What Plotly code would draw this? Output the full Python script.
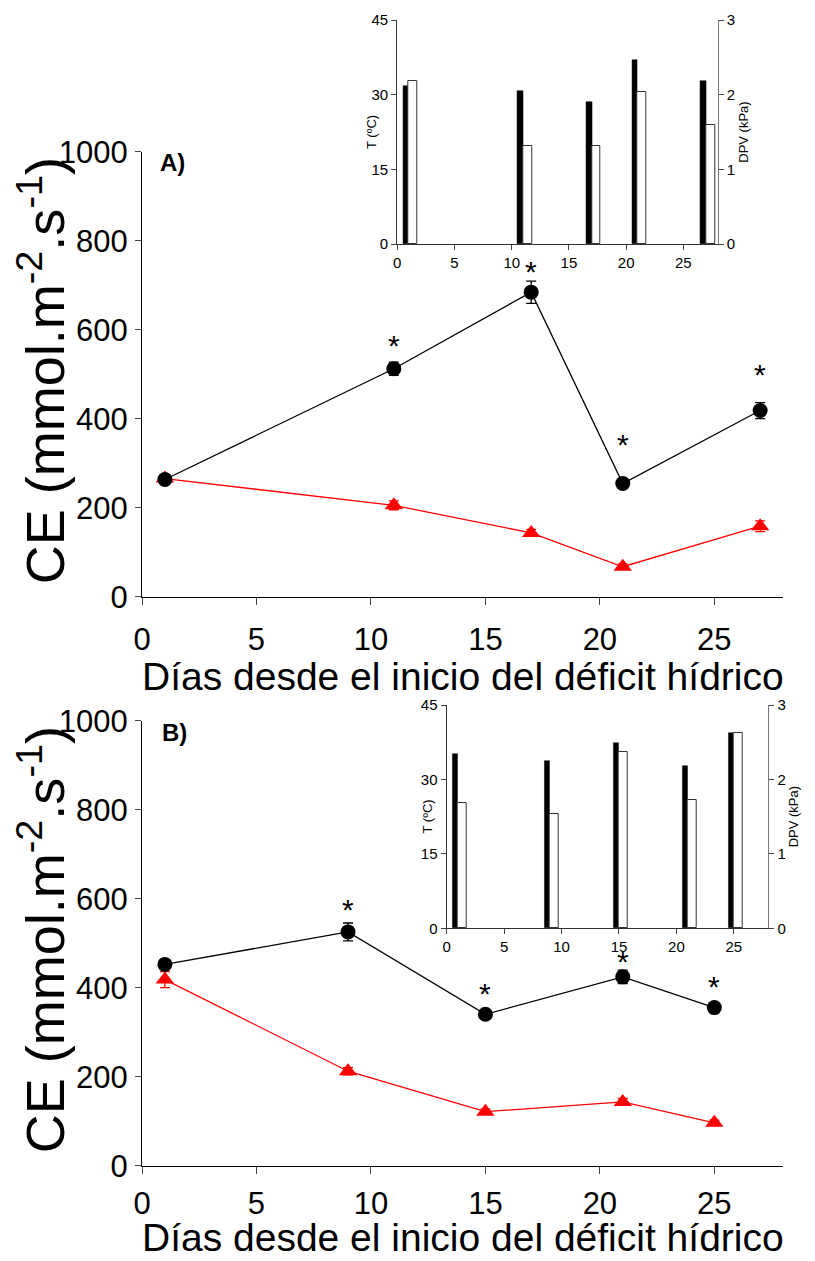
import plotly.graph_objects as go

# ---------------- data ----------------
days_A = [1, 11, 17, 21, 27]
ce_ctrl_A = [264, 513, 685, 255, 419]
ce_ctrl_A_err = [10, 15, 25, 10, 18]
ce_def_A = [266, 206, 144, 68, 159]
ce_def_A_err = [8, 10, 8, 6, 12]
sig_days_A = [11, 17, 21, 27]
sig_y_A = [573, 739, 349, 507]

days_B = [1, 9, 15, 21, 25]
ce_ctrl_B = [453, 526, 341, 425, 356]
ce_ctrl_B_err = [10, 20, 8, 15, 6]
ce_def_B = [419, 213, 122, 144, 97]
ce_def_B_err = [18, 8, 6, 8, 6]
sig_days_B = [9, 15, 21, 25]
sig_y_B = [583, 395, 467, 411]

temp_A = [31.7, 30.8, 28.6, 36.9, 32.8]
dpv_A = [2.18, 1.31, 1.31, 2.04, 1.60]
temp_B = [35.1, 33.7, 37.4, 32.7, 39.4]
dpv_B = [1.69, 1.53, 2.37, 1.72, 2.62]

x_ticks = [0, 5, 10, 15, 20, 25]
x_title = "Días desde el inicio del déficit hídrico"
y_title = "CE (mmol.m<sup>-2</sup>.s<sup>-1</sup>)"
t_title = "T (ºC)"
dpv_title = "DPV (kPa)"

FONT = "Liberation Sans, Arial, sans-serif"
NARROW = "Liberation Sans Narrow, Arial Narrow, Liberation Sans, Arial, sans-serif"

fig = go.Figure()
annotations = []

def add_main(days, ctrl, ctrl_err, dfc, dfc_err, sdays, sy, xa, ya):
    fig.add_trace(go.Scatter(
        x=days, y=dfc, mode="lines+markers", xaxis=xa, yaxis=ya,
        line=dict(color="#ff0000", width=1.3),
        marker=dict(symbol="triangle-up", size=16, color="#ff0000"),
        error_y=dict(type="data", array=dfc_err, color="#ff0000", thickness=1.3, width=5),
        showlegend=False, cliponaxis=False))
    fig.add_trace(go.Scatter(
        x=days, y=ctrl, mode="lines+markers", xaxis=xa, yaxis=ya,
        line=dict(color="black", width=1.3),
        marker=dict(symbol="circle", size=15, color="black"),
        error_y=dict(type="data", array=ctrl_err, color="black", thickness=1.3, width=5),
        showlegend=False, cliponaxis=False))
    for d, v in zip(sdays, sy):
        annotations.append(dict(
            text="*", x=d, y=v, xref=xa, yref=ya, showarrow=False,
            xanchor="center", yanchor="middle", yshift=-3,
            font=dict(family=FONT, size=30, color="black")))

add_main(days_A, ce_ctrl_A, ce_ctrl_A_err, ce_def_A, ce_def_A_err, sig_days_A, sig_y_A, "x", "y")
add_main(days_B, ce_ctrl_B, ce_ctrl_B_err, ce_def_B, ce_def_B_err, sig_days_B, sig_y_B, "x2", "y2")

def add_inset(days, temp, dpv, xa, ya_l, ya_r):
    fig.add_trace(go.Bar(
        x=days, y=temp, xaxis=xa, yaxis=ya_l, offset=-0.48, width=0.48,
        marker=dict(color="black", line=dict(color="black", width=0.5)),
        showlegend=False))
    fig.add_trace(go.Bar(
        x=days, y=dpv, xaxis=xa, yaxis=ya_r, offset=0.0, width=0.78,
        marker=dict(color="white", line=dict(color="#333333", width=1)),
        showlegend=False))

add_inset(days_A, temp_A, dpv_A, "x3", "y3", "y4")
add_inset(days_B, temp_B, dpv_B, "x4", "y5", "y6")

main_x = dict(range=[0, 28], tickvals=x_ticks, ticks="outside", ticklen=7, tickwidth=1.2,
              showline=True, linecolor="black", linewidth=1.3, showgrid=False, zeroline=False,
              automargin=False, ticklabelstandoff=8,
              tickfont=dict(family=NARROW, size=31, color="black"))
main_y = dict(range=[0, 1000], dtick=200, ticks="outside", ticklen=6, tickwidth=1.2,
              showline=True, linecolor="black", linewidth=1.3, showgrid=False, zeroline=False,
              automargin=False, ticklabelstandoff=1,
              tickfont=dict(family=NARROW, size=31, color="black"))

ins_x = dict(range=[0, 28], tickvals=x_ticks, ticks="outside", ticklen=5, tickwidth=1,
             showline=True, linecolor="#333333", linewidth=1.3, showgrid=False, zeroline=False,
             automargin=False,
             tickfont=dict(family=FONT, size=15, color="black"))
ins_yl = dict(range=[0, 45], dtick=15, ticks="outside", ticklen=5, tickwidth=1,
              showline=True, linecolor="#333333", linewidth=1.3, showgrid=False, zeroline=False,
              automargin=False,
              tickfont=dict(family=FONT, size=15, color="black"))
ins_yr = dict(range=[0, 3], dtick=1, ticks="outside", ticklen=5, tickwidth=1, side="right",
              showline=True, linecolor="#777777", linewidth=1.3, showgrid=False, zeroline=False,
              automargin=False,
              tickfont=dict(family=FONT, size=15, color="black"),
              title=dict(text=dpv_title, font=dict(family=FONT, size=13, color="black"), standoff=4))

XDOM = [0.16605, 0.96035]
YDOM_A = [0.52993, 0.88508]
YDOM_B = [0.07582, 0.43097]
x_mid = (XDOM[0] + XDOM[1]) / 2

def title_ann(text, x, y, size, angle=0, xanchor="center", yanchor="middle", bold=False):
    return dict(text=f"<b>{text}</b>" if bold else text, x=x, y=y, xref="paper", yref="paper",
                textangle=angle, xanchor=xanchor, yanchor=yanchor, showarrow=False,
                font=dict(family=FONT, size=size, color="black"))

annotations += [
    # axis titles of the two main panels
    title_ann(x_title, x_mid, 0.46648, 39),
    title_ann(x_title, x_mid, 0.0, 39, yanchor="bottom"),
    title_ann(y_title, 0.0415, (YDOM_A[0] + YDOM_A[1]) / 2 + 0.003, 54, angle=-90),
    title_ann(y_title, 0.0415, (YDOM_B[0] + YDOM_B[1]) / 2 + 0.003, 54, angle=-90),
    # panel letters
    title_ann("A)", 0.18587, 0.8763, 24, xanchor="left", bold=True),
    title_ann("B)", 0.18835, 0.42139, 24, xanchor="left", bold=True),
    # left titles of the insets, nestled beside the tick labels
    title_ann(t_title, 0.45105, 0.90104, 13, angle=-90),
    title_ann(t_title, 0.51921, 0.35475, 13, angle=-90),
]

fig.update_layout(
    template="none",
    width=807, height=1253,
    margin=dict(l=0, r=0, t=0, b=0, pad=0),
    paper_bgcolor="white", plot_bgcolor="rgba(0,0,0,0)",
    barmode="overlay", bargap=0,
    font=dict(family=FONT, color="black"),
    xaxis=dict(main_x, domain=XDOM, anchor="y"),
    yaxis=dict(main_y, domain=YDOM_A, anchor="x"),
    xaxis2=dict(main_x, domain=XDOM, anchor="y2", ticklabelstandoff=3),
    yaxis2=dict(main_y, domain=YDOM_B, anchor="x2"),
    xaxis3=dict(ins_x, domain=[0.4824, 0.87943], anchor="y3"),
    yaxis3=dict(ins_yl, domain=[0.81165, 0.99042], anchor="x3"),
    yaxis4=dict(ins_yr, overlaying="y3", anchor="x3"),
    xaxis4=dict(ins_x, domain=[0.54362, 0.94213], anchor="y5"),
    yaxis5=dict(ins_yl, domain=[0.26552, 0.44373], anchor="x4"),
    yaxis6=dict(ins_yr, overlaying="y5", anchor="x4"),
    annotations=annotations,
)

fig.write_html("out.html")
